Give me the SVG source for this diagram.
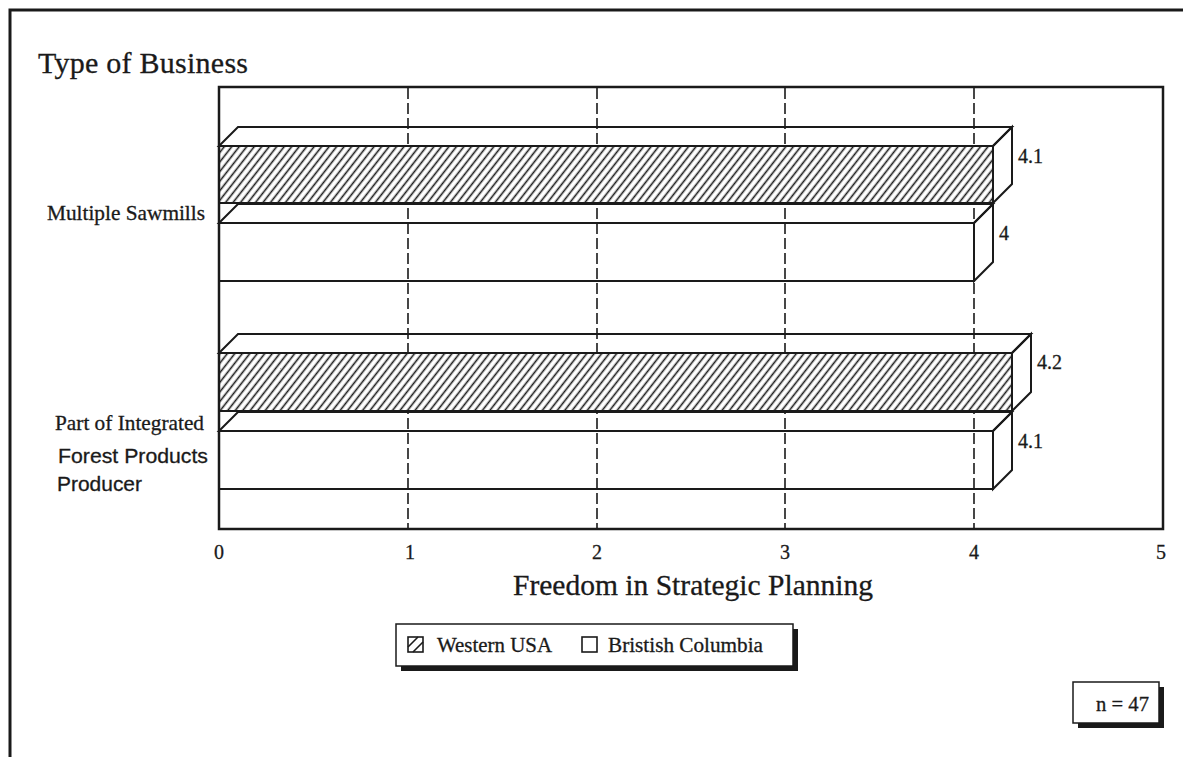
<svg xmlns="http://www.w3.org/2000/svg" width="1183" height="757" viewBox="0 0 1183 757">
<style>
.serif{font-family:"Liberation Serif","Times New Roman",serif;fill:#1a1a1a;stroke:#1a1a1a;stroke-width:0.3}
.sans{font-family:"Liberation Sans",Arial,sans-serif;fill:#1a1a1a;stroke:#1a1a1a;stroke-width:0.3}
.grid{stroke:#1a1a1a;stroke-width:1.6;stroke-dasharray:11 4}
.hatch{fill:url(#hatch);stroke:#1a1a1a;stroke-width:2}
.face{fill:none;stroke:#1a1a1a;stroke-width:2;stroke-linejoin:miter}
</style>
<defs>
<pattern id="hatch" patternUnits="userSpaceOnUse" width="5.9" height="10" patternTransform="rotate(38)">
<rect width="5.9" height="10" fill="#fff"/>
<line x1="1.5" y1="0" x2="1.5" y2="10" stroke="#1a1a1a" stroke-width="1.6"/>
</pattern>
</defs>
<rect width="1183" height="757" fill="#fff"/>
<path d="M10,757 V10 H1183" fill="none" stroke="#1a1a1a" stroke-width="3"/>
<text class="serif" x="38" y="73" font-size="30" textLength="210">Type of Business</text>
<g id="grid">
<line class="grid" x1="408" y1="88" x2="408" y2="529"/>
<line class="grid" x1="597" y1="88" x2="597" y2="529"/>
<line class="grid" x1="785" y1="88" x2="785" y2="529"/>
<line class="grid" x1="974" y1="88" x2="974" y2="529"/>
</g>
<g id="bar-ms-bc">
<path class="face" d="M219,223 L238,204 H993 L974,223 Z"/>
<path class="face" d="M974,223 L993,204 V262 L974,281 Z"/>
<rect class="face" x="219" y="223" width="755" height="58"/>
</g>
<g id="bar-ms-wusa">
<path class="face" d="M219,146 L238,127 H1012 L993,146 Z"/>
<path class="face" d="M993,146 L1012,127 V184 L993,203 Z"/>
<rect class="hatch" x="219" y="146" width="774" height="57"/>
</g>
<g id="bar-ip-bc">
<path class="face" d="M219,431 L238,412 H1012 L993,431 Z"/>
<path class="face" d="M993,431 L1012,412 V470 L993,489 Z"/>
<rect class="face" x="219" y="431" width="774" height="58"/>
</g>
<g id="bar-ip-wusa">
<path class="face" d="M219,353 L238,334 H1031 L1012,353 Z"/>
<path class="face" d="M1012,353 L1031,334 V392 L1012,411 Z"/>
<rect class="hatch" x="219" y="353" width="793" height="58"/>
</g>
<g id="plot-frame">
<rect x="219" y="87" width="944" height="442" fill="none" stroke="#1a1a1a" stroke-width="2.5"/>
</g>
<g id="value-labels">
<text class="serif" x="1018" y="163" font-size="20">4.1</text>
<text class="serif" x="999" y="240" font-size="20">4</text>
<text class="serif" x="1037" y="369" font-size="20">4.2</text>
<text class="serif" x="1018" y="448" font-size="20">4.1</text>
</g>
<g id="category-labels">
<text class="serif" x="47" y="220" font-size="21" textLength="158" lengthAdjust="spacingAndGlyphs">Multiple Sawmills</text>
<text class="serif" x="55" y="430" font-size="21" textLength="149" lengthAdjust="spacingAndGlyphs">Part of Integrated</text>
<text class="sans" x="58" y="463" font-size="21" textLength="150" lengthAdjust="spacingAndGlyphs">Forest Products</text>
<text class="sans" x="57" y="491" font-size="21" textLength="85" lengthAdjust="spacingAndGlyphs">Producer</text>
</g>
<g id="x-axis" class="serif" font-size="20" text-anchor="middle">
<text x="219" y="559">0</text>
<text x="410" y="559">1</text>
<text x="597" y="559">2</text>
<text x="785" y="559">3</text>
<text x="974" y="559">4</text>
<text x="1161" y="559">5</text>
</g>
<text class="serif" x="513" y="595" font-size="29" textLength="360" lengthAdjust="spacingAndGlyphs">Freedom in Strategic Planning</text>
<g id="legend">
<rect x="401" y="629" width="397" height="42" fill="#1a1a1a"/>
<rect x="396" y="624" width="397" height="42" fill="#fff" stroke="#1a1a1a" stroke-width="1.5"/>
<rect x="408" y="637" width="15" height="15" fill="#fff" stroke="#1a1a1a" stroke-width="1.6"/>
<line x1="408" y1="647" x2="418" y2="637" stroke="#1a1a1a" stroke-width="1.6"/>
<line x1="413" y1="652" x2="423" y2="642" stroke="#1a1a1a" stroke-width="1.6"/>
<text class="serif" x="437" y="652" font-size="20" textLength="115" lengthAdjust="spacingAndGlyphs">Western USA</text>
<rect x="582" y="637" width="15" height="15" fill="#fff" stroke="#1a1a1a" stroke-width="1.6"/>
<text class="serif" x="608" y="652" font-size="20" textLength="155" lengthAdjust="spacingAndGlyphs">Bristish Columbia</text>
</g>
<g id="n-box">
<rect x="1078" y="687" width="86" height="41" fill="#1a1a1a"/>
<rect x="1073" y="682" width="86" height="41" fill="#fff" stroke="#1a1a1a" stroke-width="1.5"/>
<text class="serif" x="1096" y="711" font-size="20" textLength="53" lengthAdjust="spacingAndGlyphs">n = 47</text>
</g>
</svg>
